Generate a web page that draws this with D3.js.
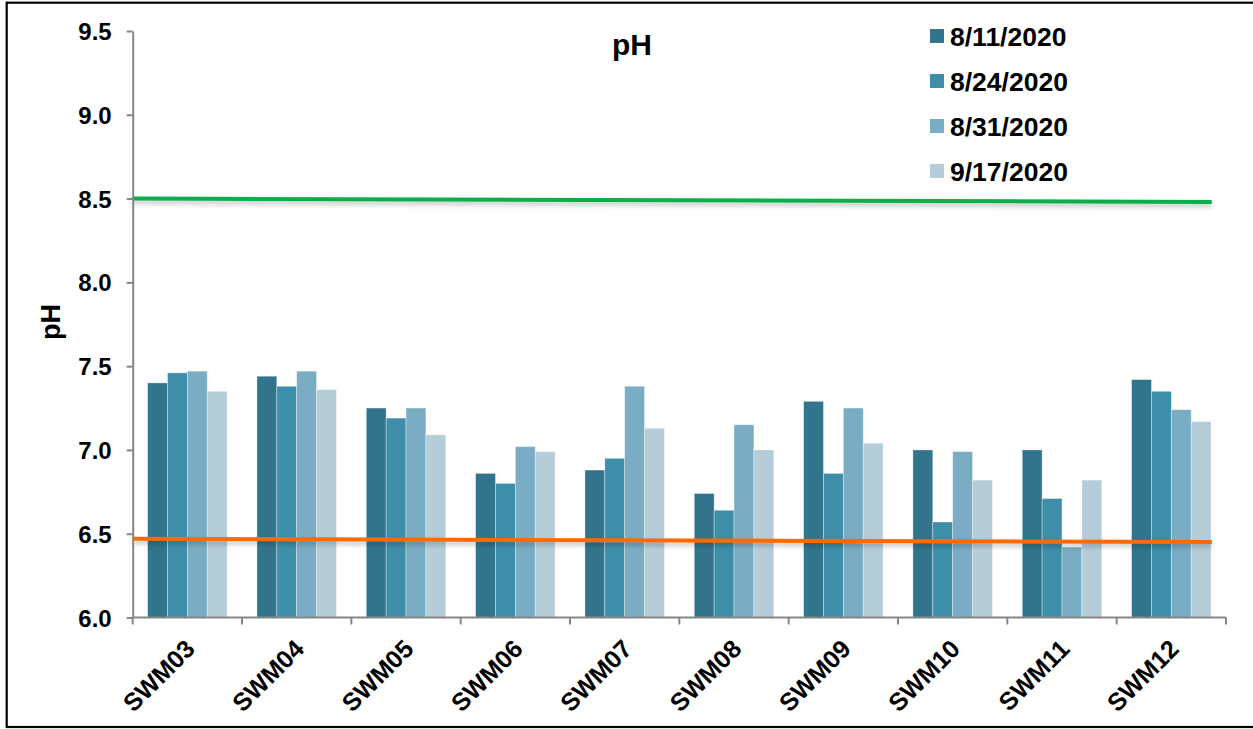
<!DOCTYPE html>
<html>
<head>
<meta charset="utf-8">
<script src="https://cdn.jsdelivr.net/npm/d3@7"></script>
<style>
  html, body { margin: 0; padding: 0; background: #fff; }
  svg { display: block; font-family: "Liberation Sans", Arial, sans-serif; }
</style>
</head>
<body>
<svg id="chart" width="1253" height="729"></svg>
<script>
// Sampling stations and sampling dates
const stations = ["SWM03", "SWM04", "SWM05", "SWM06", "SWM07", "SWM08", "SWM09", "SWM10", "SWM11", "SWM12"];
const dates = ["8/11/2020", "8/24/2020", "8/31/2020", "9/17/2020"];

// pH readings per date, one value per station
const ph_0811 = [7.40, 7.44, 7.25, 6.86, 6.88, 6.74, 7.29, 7.00, 7.00, 7.42];
const ph_0824 = [7.46, 7.38, 7.19, 6.80, 6.95, 6.64, 6.86, 6.57, 6.71, 7.35];
const ph_0831 = [7.47, 7.47, 7.25, 7.02, 7.38, 7.15, 7.25, 6.99, 6.42, 7.24];
const ph_0917 = [7.35, 7.36, 7.09, 6.99, 7.13, 7.00, 7.04, 6.82, 6.82, 7.17];

// Acceptable range limits (start and end of each drawn line)
const upperLimit = [8.50, 8.48];
const lowerLimit = [6.47, 6.45];

const yTicks = [6.0, 6.5, 7.0, 7.5, 8.0, 8.5, 9.0, 9.5];
const barColors = ["#31748b", "#3e8da9", "#7aacc3", "#b5cdd9"];

const series = [ph_0811, ph_0824, ph_0831, ph_0917];

const svg = d3.select("#chart");
const plotLeft = 132.7, plotRight = 1226, plotTop = 31, plotBottom = 617.5;

const defs = svg.append("defs");
const shadow = defs.append("filter").attr("id", "lineShadow")
  .attr("x", "-5%").attr("y", "-300%").attr("width", "110%").attr("height", "700%");
shadow.append("feDropShadow").attr("dx", 0).attr("dy", 3)
  .attr("stdDeviation", 2.5).attr("flood-color", "#000").attr("flood-opacity", 0.25);

// outer frame
svg.append("rect")
  .attr("x", 6.7).attr("y", 2.7).attr("width", 1270).attr("height", 724.3)
  .attr("fill", "none").attr("stroke", "#000").attr("stroke-width", 2.2);

const x = d3.scaleBand().domain(stations).range([plotLeft, plotRight]).paddingInner(0).paddingOuter(0);
const groupWidth = x.bandwidth() * 4 / 5.5;
const xs = d3.scaleBand().domain(d3.range(dates.length))
  .range([(x.bandwidth() - groupWidth) / 2, (x.bandwidth() + groupWidth) / 2]).padding(0);
const y = d3.scaleLinear().domain([6.0, 9.5]).range([plotBottom, plotTop]);

// bars
const rows = stations.map((s, i) => ({ station: s, values: series.map(v => v[i]) }));
const groups = svg.append("g").selectAll("g").data(rows).join("g")
  .attr("transform", d => `translate(${x(d.station)},0)`);
groups.selectAll("rect").data(d => d.values.map((v, k) => ({ v, k }))).join("rect")
  .attr("x", d => xs(d.k))
  .attr("width", xs.bandwidth())
  .attr("y", d => y(d.v))
  .attr("height", d => y(6.0) - y(d.v))
  .attr("fill", d => barColors[d.k])
  .attr("stroke", "rgba(255,255,255,0.45)")
  .attr("stroke-width", 0.8);

// limit lines
const xLin = d3.scaleLinear().domain([0, stations.length]).range([plotLeft, plotRight]);
const lineSpan = [0, 9.87];
const limitLine = d3.line().x((d, i) => xLin(lineSpan[i])).y(d => y(d));
svg.append("path").datum(upperLimit).attr("d", limitLine)
  .attr("fill", "none").attr("stroke", "#0bae4a").attr("stroke-width", 4)
  .attr("filter", "url(#lineShadow)");
svg.append("path").datum(lowerLimit).attr("d", limitLine)
  .attr("fill", "none").attr("stroke", "#ff6a00").attr("stroke-width", 4)
  .attr("filter", "url(#lineShadow)");

// y axis
const yAxis = svg.append("g").attr("transform", `translate(${plotLeft},0)`)
  .call(d3.axisLeft(y).tickValues(yTicks).tickFormat(d3.format(".1f")).tickSize(6).tickSizeOuter(0).tickPadding(15));
yAxis.select(".domain").attr("stroke", "#868686").attr("stroke-width", 2);
yAxis.selectAll(".tick line").attr("stroke", "#868686").attr("stroke-width", 2);
yAxis.selectAll(".tick text").attr("fill", "#000").attr("font-size", 24).attr("font-weight", "bold")
  .attr("dy", "0.36em")
  .attr("font-family", "Liberation Sans, Arial, sans-serif");

// x axis
const xAxisG = svg.append("g").attr("transform", `translate(0,${plotBottom})`);
xAxisG.append("line").attr("x1", plotLeft).attr("x2", plotRight).attr("y1", 0).attr("y2", 0)
  .attr("stroke", "#868686").attr("stroke-width", 2);
xAxisG.selectAll("line.tk").data(d3.range(stations.length + 1)).join("line").attr("class", "tk")
  .attr("x1", d => xLin(d)).attr("x2", d => xLin(d)).attr("y1", 0).attr("y2", 7)
  .attr("stroke", "#868686").attr("stroke-width", 2);
xAxisG.selectAll("text").data(stations).join("text")
  .attr("transform", d => `translate(${x(d) + x.bandwidth() / 2 + 9},${33}) rotate(-45)`)
  .attr("text-anchor", "end")
  .attr("font-size", 25).attr("font-weight", "bold").attr("fill", "#000")
  .text(d => d);

// titles
svg.append("text").attr("x", 632).attr("y", 55).attr("text-anchor", "middle")
  .attr("font-size", 30).attr("font-weight", "bold").text("pH");
svg.append("text").attr("transform", "translate(60,322) rotate(-90)").attr("text-anchor", "middle")
  .attr("font-size", 27).attr("font-weight", "bold").text("pH");

// legend
const legend = svg.append("g").selectAll("g").data(dates).join("g")
  .attr("transform", (d, i) => `translate(930,${36 + i * 45})`);
legend.append("rect").attr("x", 0).attr("y", -7).attr("width", 14).attr("height", 14)
  .attr("fill", (d, i) => barColors[i]);
legend.append("text").attr("x", 20).attr("y", 0).attr("dy", "0.36em")
  .attr("font-size", 26.5).attr("font-weight", "bold").text(d => d);
</script>
</body>
</html>
